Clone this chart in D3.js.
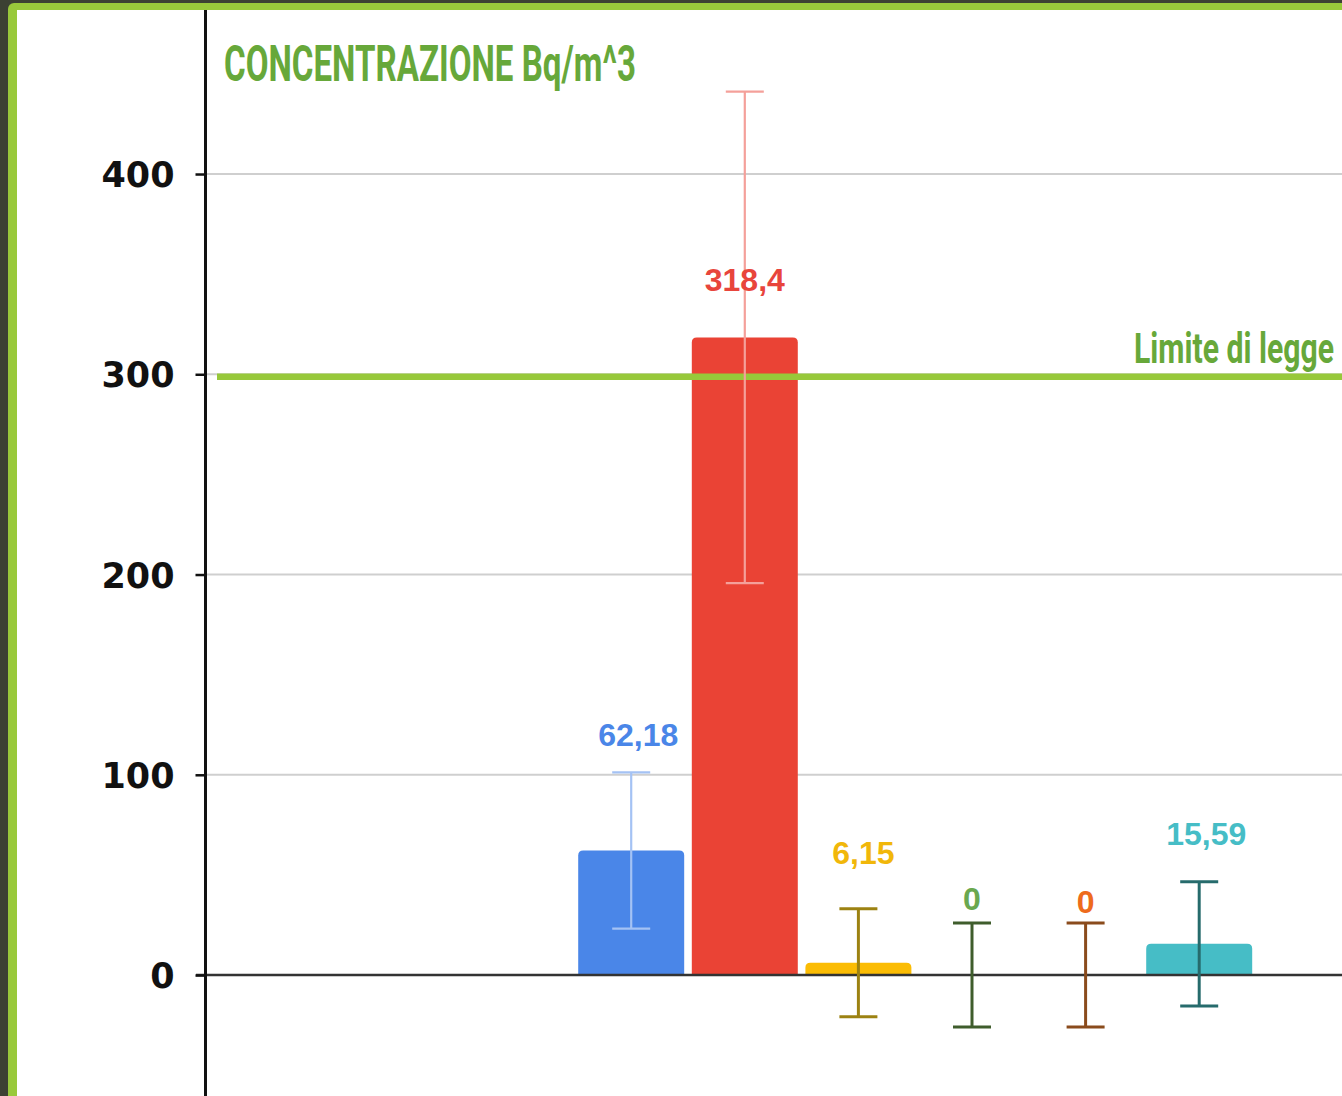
<!DOCTYPE html>
<html>
<head>
<meta charset="utf-8">
<script src="https://cdn.jsdelivr.net/npm/d3@7"></script>
<style>
  html, body { margin: 0; padding: 0; background: #3c4133; }
  svg { display: block; }
</style>
</head>
<body>
<svg id="chart" width="1342" height="1096"></svg>
<script>
// ---------- DATA ----------
const categories = ["", " ", "  ", "A", "B", "C", "D", "E", "F", "   "];
const values     = [null, null, null, 62.18, 318.4, 6.15, 0, 0, 15.59, null];
const errors     = [null, null, null, 39, 122.7, 27, 26, 26, 31, null];
const valueLabels = ["", "", "", "62,18", "318,4", "6,15", "0", "0", "15,59", ""];
const yTicks = [0, 100, 200, 300, 400];
const limitValue = 298.8;
const titleText = "CONCENTRAZIONE Bq/m^3";
const limitText = "Limite di legge";

// ---------- STYLE / LAYOUT ----------
const barColors   = [null, null, null, "#4a86e8", "#ea4335", "#fbbc04", "#6aa84f", "#ff6d01", "#46bdc6", null];
const labelColors = [null, null, null, "#4a86e8", "#e8453c", "#f1b70a", "#6aa84f", "#ee6b1c", "#46bdc6", null];
const errColors   = [null, null, null, "#a4c2f4", "#f4a09a", "#9c8212", "#3f5d2c", "#8a4b1c", "#266b6c", null];
const errWidths   = [0, 0, 0, 2.2, 2.2, 3, 3, 3, 3, 0];
const labelAt     = [0, 0, 0, 114.3, 341.6, 55.5, 32.5, 31.2, 64.9, 0]; // label baseline, in data units
const labelDx     = [0, 0, 0, 7, 0, 5, 0, 0, 7, 0];

const W = 1342, H = 1096;
const svg = d3.select("#chart");

// frame
svg.append("rect").attr("x", 0).attr("y", 0).attr("width", W).attr("height", H).attr("fill", "#3c4133");
svg.append("rect").attr("x", 8).attr("y", 3).attr("width", W).attr("height", H + 20)
  .attr("rx", 6).attr("fill", "#99c93b");
svg.append("rect").attr("x", 17).attr("y", 10).attr("width", W).attr("height", H)
  .attr("fill", "#ffffff");

// scales
const y = d3.scaleLinear().domain([-60.4, 481.9]).range([1096, 10]);
const x = d3.scaleBand().domain(categories).range([233.6, 1369.6])
  .paddingInner(0.067).paddingOuter(0.0335);
const axisX = 205.5;

// gridlines
svg.append("g").selectAll("line").data(yTicks.filter(d => d !== 0)).join("line")
  .attr("x1", axisX).attr("x2", W)
  .attr("y1", d => y(d)).attr("y2", d => y(d))
  .attr("stroke", "#cfcfcf").attr("stroke-width", 2);

// bars with rounded top corners
const r = 5;
const barData = categories.map((c, i) => ({c, i, v: values[i]})).filter(d => d.v !== null && d.v > 0);
svg.append("g").selectAll("path").data(barData).join("path")
  .attr("d", d => {
    const x0 = x(d.c), w = x.bandwidth(), y0 = y(0), y1 = y(d.v);
    const rr = Math.min(r, (y0 - y1));
    return `M${x0},${y0} L${x0},${y1 + rr} Q${x0},${y1} ${x0 + rr},${y1} L${x0 + w - rr},${y1} Q${x0 + w},${y1} ${x0 + w},${y1 + rr} L${x0 + w},${y0} Z`;
  })
  .attr("fill", d => barColors[d.i]);

// zero line
svg.append("line").attr("x1", 196).attr("x2", W).attr("y1", y(0)).attr("y2", y(0))
  .attr("stroke", "#333333").attr("stroke-width", 2.5);

// limit line
svg.append("line").attr("x1", 217).attr("x2", W).attr("y1", y(limitValue)).attr("y2", y(limitValue))
  .attr("stroke", "#97c83a").attr("stroke-width", 6.5);

// error bars
const errData = categories.map((c, i) => ({c, i, v: values[i], e: errors[i]})).filter(d => d.v !== null);
const capHalf = 19;
const eg = svg.append("g").selectAll("g").data(errData).join("g")
  .attr("stroke", d => errColors[d.i]).attr("stroke-width", d => errWidths[d.i]);
eg.append("line")
  .attr("x1", d => x(d.c) + x.bandwidth() / 2).attr("x2", d => x(d.c) + x.bandwidth() / 2)
  .attr("y1", d => y(d.v + d.e)).attr("y2", d => y(d.v - d.e));
eg.append("line")
  .attr("x1", d => x(d.c) + x.bandwidth() / 2 - capHalf).attr("x2", d => x(d.c) + x.bandwidth() / 2 + capHalf)
  .attr("y1", d => y(d.v + d.e)).attr("y2", d => y(d.v + d.e));
eg.append("line")
  .attr("x1", d => x(d.c) + x.bandwidth() / 2 - capHalf).attr("x2", d => x(d.c) + x.bandwidth() / 2 + capHalf)
  .attr("y1", d => y(d.v - d.e)).attr("y2", d => y(d.v - d.e));

// value labels
svg.append("g").selectAll("text").data(errData).join("text")
  .attr("x", d => x(d.c) + x.bandwidth() / 2 + labelDx[d.i])
  .attr("y", d => y(labelAt[d.i]))
  .attr("text-anchor", "middle")
  .attr("font-family", "'Liberation Sans', Arial, sans-serif")
  .attr("font-weight", "bold")
  .attr("font-size", 32)
  .attr("fill", d => labelColors[d.i])
  .text(d => valueLabels[d.i]);

// y axis
const yAxis = d3.axisLeft(y).tickValues(yTicks).tickSize(10).tickPadding(21).tickFormat(d3.format("d"));
const ag = svg.append("g").attr("transform", `translate(${axisX},0)`).call(yAxis);
ag.select(".domain").remove();
ag.selectAll(".tick line").attr("stroke", "#111").attr("stroke-width", 2.5);
ag.selectAll(".tick text")
  .attr("font-family", "'DejaVu Sans', sans-serif")
  .attr("font-weight", "bold")
  .attr("font-size", 35)
  .attr("fill", "#111")
  .attr("dy", "0.36em");
svg.append("line").attr("x1", axisX).attr("x2", axisX).attr("y1", 10).attr("y2", H)
  .attr("stroke", "#111").attr("stroke-width", 3);

// condensed text helper: scales horizontally to a target width
function condensedText(str, anchorX, baseY, size, targetW, anchor) {
  const g = svg.append("g");
  const t = g.append("text")
    .attr("x", 0).attr("y", 0)
    .attr("text-anchor", anchor)
    .attr("font-family", "Roboto, sans-serif").attr("font-weight", "bold")
    .attr("font-size", size).attr("fill", "#67a83a")
    .text(str);
  const natural = t.node().getComputedTextLength();
  const s = targetW / natural;
  g.attr("transform", `translate(${anchorX},${baseY}) scale(${s},1)`);
  return g;
}

// title
condensedText(titleText, 224, 81, 50, 412, "start");
// limit label
condensedText(limitText, 1334, 363, 42, 200, "end");
</script>
</body>
</html>
